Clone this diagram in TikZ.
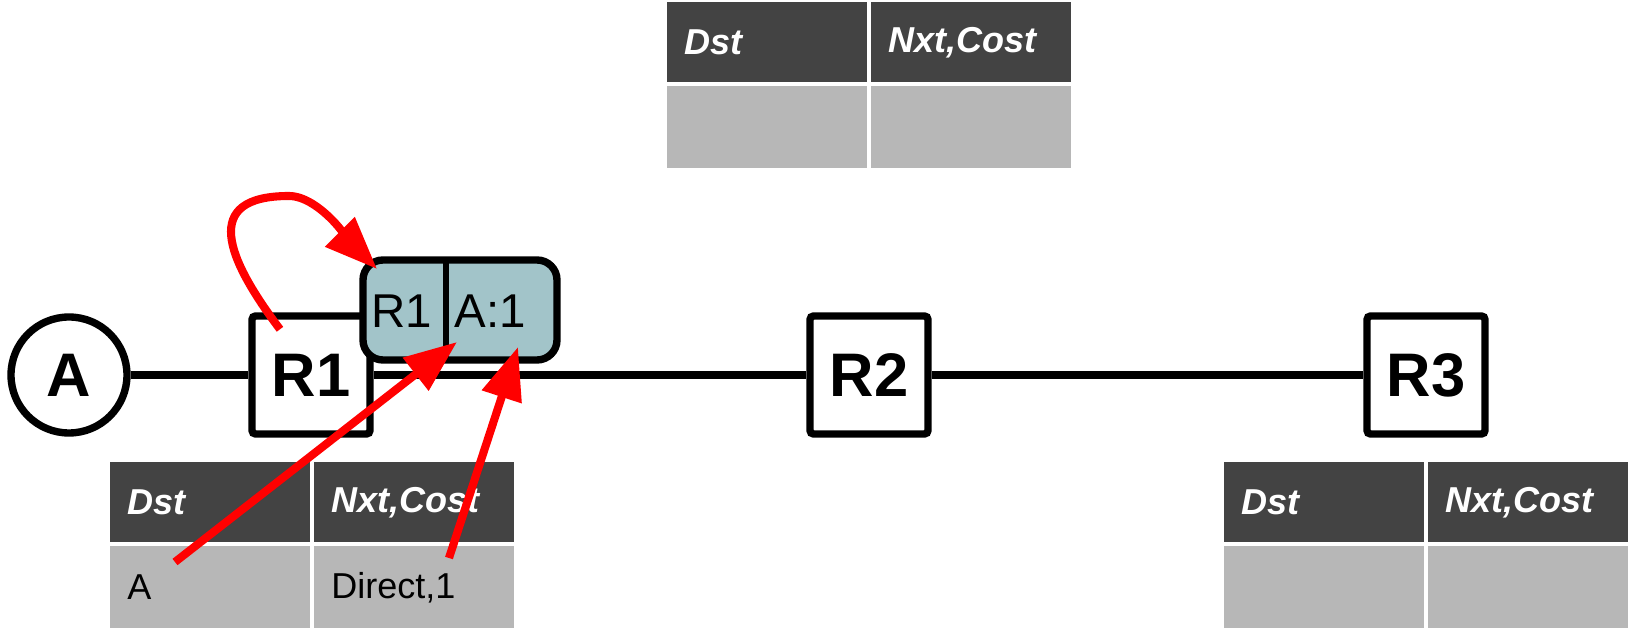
\documentclass[tikz,border=0pt]{standalone}
\usepackage{fontspec}
\setmainfont{Liberation Sans}
\usetikzlibrary{arrows.meta}
\definecolor{entete}{HTML}{434343}
\definecolor{caseg}{HTML}{B7B7B7}
\definecolor{paquet}{HTML}{A2C4C9}
\tikzset{
  routeur/.style={draw, line width=4.2pt, rounded corners=2pt, fill=white, minimum size=2.36cm, inner sep=0pt, font=\fontsize{35}{40}\selectfont\bfseries},
  hote/.style={circle, draw, line width=4.2pt, fill=white, minimum size=2.32cm, inner sep=0pt, font=\fontsize{35}{40}\selectfont\bfseries},
  lien/.style={line width=4pt},
  titre/.style={anchor=north west, fill=entete, text=white, minimum height=1.6cm, text width=3.32cm, inner xsep=0.34cm, inner ysep=0pt, align=left, font=\fontsize{20.5}{24}\selectfont\bfseries\itshape},
  ligne/.style={titre, fill=caseg, text=black, minimum height=1.64cm, font=\fontsize{20.5}{24}\selectfont},
  fleche/.style={red, line width=4.6pt, -{Triangle[length=1.05cm,width=0.8cm]}},
}
\begin{document}
\begin{tikzpicture}
    \useasboundingbox (0,0) rectangle (32.56,12.56);

    \node[titre] (hautDst) at (13.34,12.52) {Dst}; %table du haut
    \node[titre] (hautNxt) at (17.42,12.52) {Nxt,Cost};
    \node[ligne] (hautA) at (13.34,10.84) {};
    \node[ligne] (hautB) at (17.42,10.84) {};

    \node[titre] (r1Dst) at (2.2,3.32) {Dst}; %table R1
    \node[titre] (r1Nxt) at (6.28,3.32) {Nxt,Cost};
    \node[ligne] (r1A) at (2.2,1.64) {A};
    \node[ligne] (r1Direct) at (6.28,1.64) {Direct,1};

    \node[titre] (r3Dst) at (24.48,3.32) {Dst}; %table R3
    \node[titre] (r3Nxt) at (28.56,3.32) {Nxt,Cost};
    \node[ligne] (r3A) at (24.48,1.64) {};
    \node[ligne] (r3B) at (28.56,1.64) {};

    \node[hote] (A) at (1.38,5.06) {A}; %hote A
    \node[routeur] (R1) at (6.22,5.06) {R1};
    \node[routeur] (R2) at (17.38,5.06) {R2};
    \node[routeur] (R3) at (28.52,5.06) {R3};
    \draw[lien] (A) -- (R1); %liens
    \draw[lien] (R1) -- (R2);
    \draw[lien] (R2) -- (R3);

    \node[draw, line width=4.2pt, fill=paquet, rounded corners=0.4cm, outer sep=0pt, minimum width=3.88cm, minimum height=2cm] (pkt) at (9.2,6.36) {}; %paquet
    \coordinate (sep) at (8.92,6.36);
    \draw[line width=3.6pt] (sep |- pkt.north) -- (sep |- pkt.south);
    \node[font=\fontsize{27}{32}\selectfont] (pktR1) at (8.04,6.33) {R1};
    \node[font=\fontsize{27}{32}\selectfont] (pktA) at (9.8,6.33) {A:1};

    \coordinate (boucle) at (5.78,8.64);
    \draw[fleche] ([xshift=-0.62cm,yshift=-0.34cm]R1.north) to[out=127,in=180,looseness=1.7] (boucle) to[out=0,in=135,looseness=0.7] ([xshift=0.28cm,yshift=-0.18cm]pkt.north west); %boucle
    \draw[fleche] ([xshift=1.3cm,yshift=-0.32cm]r1A.north west) -- ([xshift=-0.06cm,yshift=0.36cm]pkt.south);
    \draw[fleche] ([xshift=2.7cm,yshift=-0.24cm]r1Direct.north west) -- ([xshift=1.16cm,yshift=0.26cm]pkt.south);
\end{tikzpicture}
\end{document}
